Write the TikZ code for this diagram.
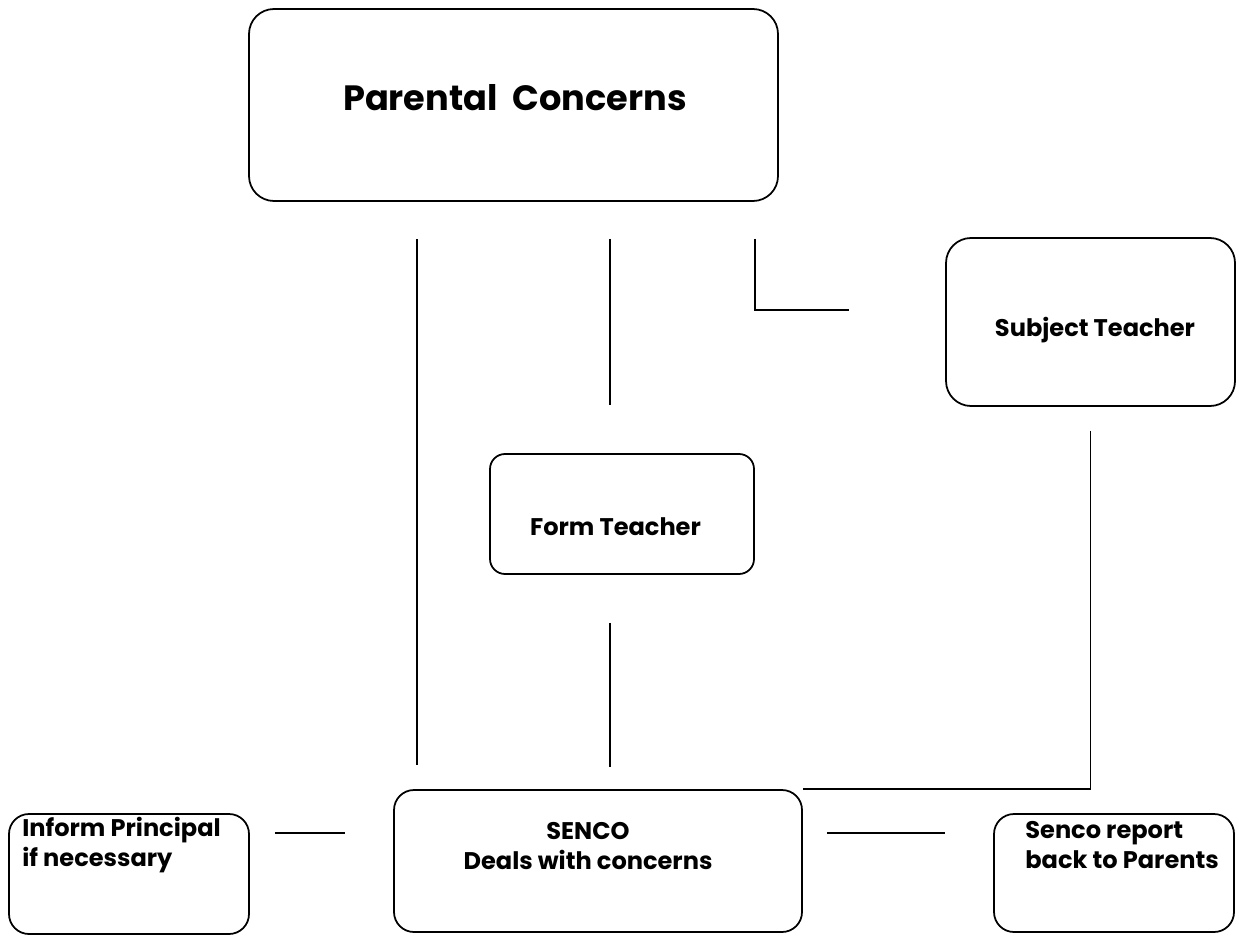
\documentclass[tikz,border=0pt]{standalone}
\usepackage{fontspec}
\setmainfont{Poppins}
\begin{document}
\begin{tikzpicture}[
    box/.style={draw, line width=1pt, rounded corners=0.4cm},
    txt/.style={font=\fontsize{13.7}{17}\selectfont\bfseries, inner sep=0pt},
    link/.style={line width=1pt}
  ]
  \useasboundingbox (0,0) rectangle (24.78,-18.74);
  % boxes
  \node[box, rounded corners=0.5cm, minimum width=10.58cm, minimum height=3.84cm] (parent) at (10.27,-2.10) {};
  \node[box, rounded corners=0.5cm, minimum width=5.78cm, minimum height=3.36cm] (subject) at (21.81,-6.44) {};
  \node[box, rounded corners=0.3cm, minimum width=5.28cm, minimum height=2.40cm] (form) at (12.44,-10.28) {};
  \node[box, minimum width=8.16cm, minimum height=2.84cm] (senco) at (11.96,-17.22) {};
  \node[box, minimum width=4.80cm, minimum height=2.40cm] (principal) at (2.58,-17.48) {};
  \node[box, minimum width=4.80cm, minimum height=2.36cm] (report) at (22.28,-17.46) {};
  % texts
  \node[txt, font=\fontsize{20}{24}\selectfont\bfseries] (ptext) at (10.30,-1.96) {Parental~ Concerns};
  \node[txt] (stext) at (21.90,-6.60) {Subject Teacher};
  \node[txt] (ftext) at (12.31,-10.54) {Form Teacher};
  \node[txt, align=center] (ctext) at (11.76,-16.92) {SENCO\\Deals with concerns};
  \node[txt, align=left, anchor=west] (itext) at (0.44,-16.90) {Inform Principal\\if necessary};
  \node[txt, align=left, anchor=west] (rtext) at (20.50,-16.90) {Senco report\\back to Parents};
  % links
  \draw[link, shorten <=0.74cm, shorten >=0.48cm] ([xshift=3.38cm]parent.south west) -- ([xshift=3.38cm]parent.south west |- senco.north);
  \draw[link, shorten <=0.74cm, shorten >=0.96cm] ([xshift=-0.24cm]form.north |- parent.south) -- ([xshift=-0.24cm]form.north);
  \draw[link, shorten <=0.96cm, shorten >=0.44cm] ([xshift=-0.24cm]form.south) -- ([xshift=-0.24cm]form.south |- senco.north);
  \draw[link] ([xshift=-0.48cm,yshift=-0.74cm]parent.south east) |- ([xshift=-1.92cm,yshift=0.24cm]subject.west);
  \draw[link] ([yshift=-0.48cm]subject.south) |- (senco.north east);
  \coordinate (lmid) at ([yshift=0.56cm]senco.west);
  \coordinate (rmid) at ([yshift=0.56cm]senco.east);
  \draw[link, shorten <=0.5cm, shorten >=0.96cm] (principal.east |- lmid) -- (lmid);
  \draw[link, shorten <=0.48cm, shorten >=0.96cm] (rmid) -- (rmid -| report.west);
\end{tikzpicture}
\end{document}
